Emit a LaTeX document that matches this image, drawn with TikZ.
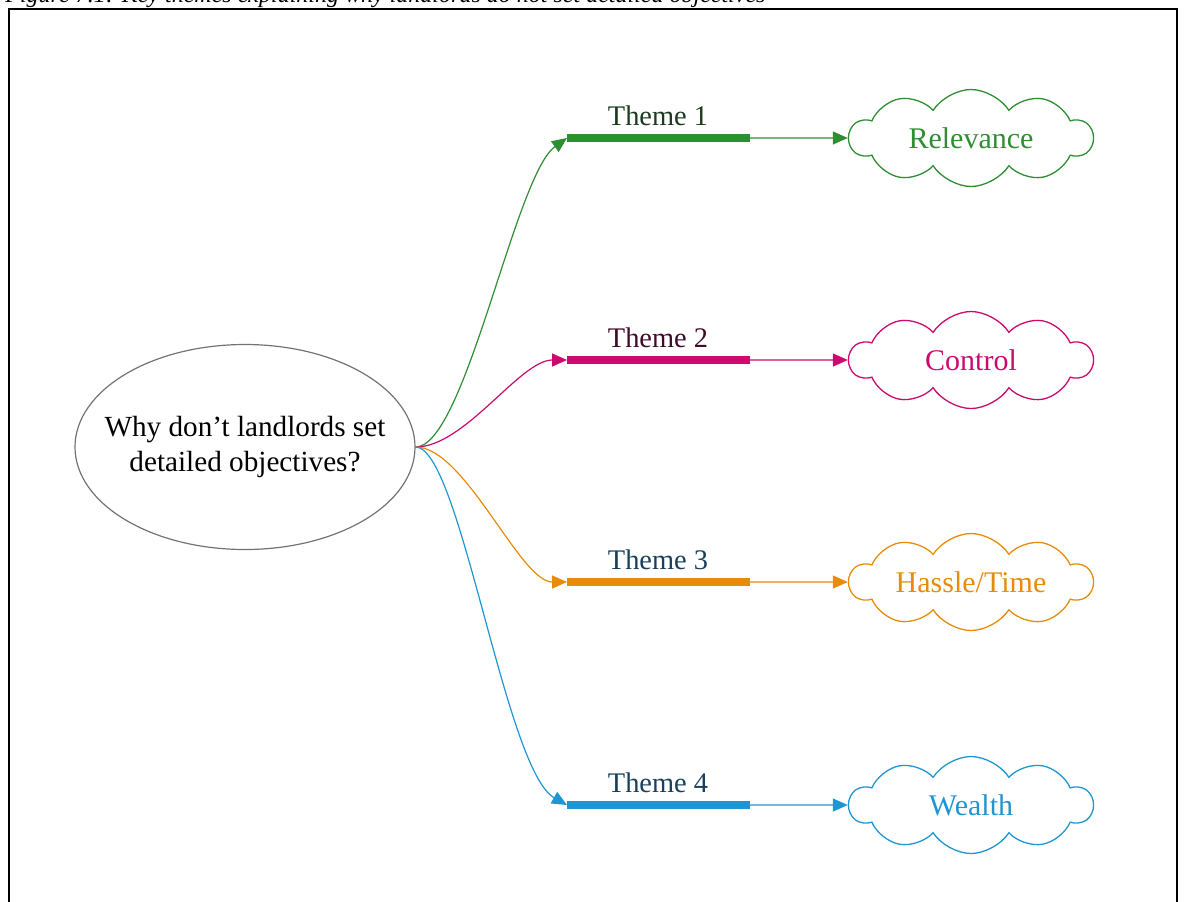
\documentclass[tikz,border=0pt]{standalone}
\usepackage{fontspec}
\setmainfont{Liberation Serif}
\usetikzlibrary{shapes.geometric,shapes.symbols,arrows.meta}

\definecolor{tgreen}{HTML}{2E8E32}
\definecolor{tpink}{HTML}{CC0A6E}
\definecolor{torange}{HTML}{E68C0A}
\definecolor{tblue}{HTML}{1E96D2}
\definecolor{lgreen}{HTML}{1C3A1E}
\definecolor{lmaroon}{HTML}{400A2A}
\definecolor{lnavy}{HTML}{18405C}

\tikzset{
  question/.style={ellipse, draw=black!55, line width=0.6pt, inner xsep=-10.5pt, inner ysep=0pt,
    minimum width=170pt, minimum height=102.5pt,
    align=center, font=\fontsize{14.6}{17.5}\selectfont},
  themebar/.style={line width=4pt},
  themelabel/.style={font=\fontsize{14.2}{17}\selectfont, anchor=base},
  idea/.style={cloud, cloud puffs=10, cloud puff arc=115, cloud ignores aspect, draw, line width=0.65pt,
    inner sep=0pt, minimum width=121.5pt, minimum height=48.5pt, font=\fontsize{15}{18}\selectfont},
  link/.style={line width=0.6pt, -{Triangle[length=7.5pt,width=6.5pt]}},
}

\begin{document}
\begin{tikzpicture}[x=0.5pt,y=-0.5pt]
\useasboundingbox (0,0) rectangle (1186,901);

% caption and frame
\node[anchor=base west, inner sep=0, font=\fontsize{12}{14}\selectfont\itshape] (cap) at (5,2)
  {Figure 7.1: Key themes explaining why landlords do not set detailed objectives};
\draw[line width=0.9pt] (9,960) -- (9,9) -- (1177,9) -- (1177,960);

% central question
\node[question] (q) at (245,447) {Why don’t landlords set\\detailed objectives?};
\coordinate (src) at (q.east);

% theme bars
\foreach \i/\y/\c in {1/138/tgreen, 2/360/tpink, 3/582/torange, 4/805/tblue}{
  \coordinate (b\i w) at (567,\y);
  \coordinate (b\i e) at (750,\y);
  \draw[themebar,\c] (b\i w) -- (b\i e);
}
\node[themelabel, text=lgreen]  (t1) at (658,125) {Theme 1};
\node[themelabel, text=lmaroon] (t2) at (658,347) {Theme 2};
\node[themelabel, text=lnavy]   (t3) at (658,569) {Theme 3};
\node[themelabel, text=lnavy]   (t4) at (658,792) {Theme 4};

% clouds
\node[idea, draw=tgreen,  text=tgreen]  (c1) at (971,138) {Relevance};
\node[idea, draw=tpink,   text=tpink]   (c2) at (971,360) {Control};
\node[idea, draw=torange, text=torange] (c3) at (971,582) {Hassle/Time};
\node[idea, draw=tblue,   text=tblue]   (c4) at (971,805) {Wealth};

% curved branches
\draw[link,tgreen]  (src) .. controls (465,447) and (515,175) .. (b1w);
\draw[link,tpink]   (src) .. controls (465,447) and (520,360) .. (b2w);
\draw[link,torange] (src) .. controls (465,447) and (520,582) .. (b3w);
\draw[link,tblue]   (src) .. controls (460,447) and (505,770) .. (b4w);

% bar to cloud
\draw[link,tgreen]  (b1e) -- (c1.west);
\draw[link,tpink]   (b2e) -- (c2.west);
\draw[link,torange] (b3e) -- (c3.west);
\draw[link,tblue]   (b4e) -- (c4.west);
\end{tikzpicture}
\end{document}
